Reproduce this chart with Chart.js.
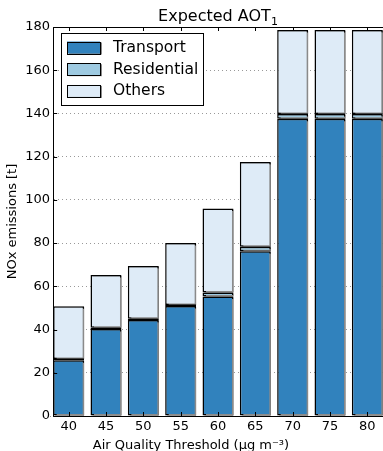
<!DOCTYPE html>
<html>
<head>
<meta charset="utf-8">
<script src="https://cdn.jsdelivr.net/npm/chart.js@4"></script>
<style>
  html, body { margin: 0; padding: 0; background: #fff; overflow: hidden; }
  #wrap { position: absolute; left: 0; top: 0; }
</style>
</head>
<body>
<div id="wrap"><canvas id="aot-chart" width="392" height="451"></canvas></div>
<script>
const thresholds = ['40', '45', '50', '55', '60', '65', '70', '75', '80'];
const transport = [25.8, 40.2, 44.4, 50.9, 55.3, 76.2, 137.5, 137.5, 137.5];
const residential = [0.6, 0.6, 0.6, 0.5, 1.8, 2.1, 2.2, 2.2, 2.2];
const others = [24.4, 24.4, 24.4, 28.6, 38.9, 39.2, 38.9, 38.9, 38.9];
const yTicks = [0, 20, 40, 60, 80, 100, 120, 140, 160, 180];

const titleText = 'Expected AOT';
const titleSub = '1';
const xTitle = 'Air Quality Threshold (\u00b5g m\u207b\u00b3)';

const FONT = 'DejaVu Sans';
const barPct = 0.83;

// grey drop shadow behind every bar, like the old matplotlib style
const shadowPlugin = {
    id: 'barShadow',
    beforeDatasetDraw(chart) {
        const c = chart.ctx;
        c.shadowColor = '#8a8a8a';
        c.shadowOffsetX = 2;
        c.shadowOffsetY = 1;
        c.shadowBlur = 0;
    },
    afterDatasetDraw(chart) {
        const c = chart.ctx;
        c.shadowColor = 'rgba(0,0,0,0)';
        c.shadowOffsetX = 0;
        c.shadowOffsetY = 0;
    }
};

// spines, inward ticks, title, x label and the boxed legend
const framePlugin = {
    id: 'frame',
    beforeDatasetsDraw(chart) {
        const a = chart.chartArea;
        const pitch = (a.right - a.left) / thresholds.length;
        const sx = a.left + pitch * (1 - barPct) / 2;
        const c = chart.ctx;
        c.save();
        c.fillStyle = '#fff';
        c.fillRect(a.left, a.top, sx - a.left, a.bottom - a.top);
        c.restore();
    },
    afterDraw(chart) {
        const a = chart.chartArea;
        const c = chart.ctx;
        const xs = chart.scales.x, ys = chart.scales.y;
        const pitch = (a.right - a.left) / thresholds.length;
        const sx = a.left + pitch * (1 - barPct) / 2;
        c.save();
        c.strokeStyle = '#000';
        c.lineWidth = 1;
        c.beginPath();
        c.moveTo(a.right + 20, Math.round(a.top) + 0.5);
        c.lineTo(Math.round(sx) + 0.5, Math.round(a.top) + 0.5);
        c.lineTo(Math.round(sx) + 0.5, Math.round(a.bottom) + 0.5);
        c.lineTo(a.right + 20, Math.round(a.bottom) + 0.5);
        c.stroke();
        c.beginPath();
        yTicks.forEach(v => {
            const y = Math.round(ys.getPixelForValue(v)) + 0.5;
            c.moveTo(sx, y);
            c.lineTo(sx + 4, y);
        });
        thresholds.forEach((t, i) => {
            const x = Math.round(xs.getPixelForValue(i)) + 0.5;
            c.moveTo(x, a.top);
            c.lineTo(x, a.top + 4);
            c.moveTo(x, a.bottom);
            c.lineTo(x, a.bottom - 4);
        });
        c.stroke();

        // title with subscript
        c.fillStyle = '#000';
        c.textBaseline = 'alphabetic';
        c.font = '16px "' + FONT + '"';
        const tw = c.measureText(titleText).width;
        c.font = '11px "' + FONT + '"';
        const sw = c.measureText(titleSub).width;
        const tx = (a.left + a.right) / 2 - (tw + sw) / 2;
        c.font = '16px "' + FONT + '"';
        c.textAlign = 'left';
        c.fillText(titleText, tx, 21);
        c.font = '11px "' + FONT + '"';
        c.fillText(titleSub, tx + tw, 25);

        // x axis label
        c.font = '13px "' + FONT + '"';
        c.textAlign = 'center';
        c.fillText(xTitle, 191, 449);

        // legend box
        const lx = a.left + 11, ly = a.top + 6, lw = 142, lh = 72;
        c.fillStyle = '#fff';
        c.fillRect(lx, ly, lw, lh);
        c.strokeRect(Math.round(lx) + 0.5, Math.round(ly) + 0.5, lw, lh);
        c.font = '15.5px "' + FONT + '"';
        c.textAlign = 'left';
        c.textBaseline = 'middle';
        chart.data.datasets.forEach((ds, i) => {
            const cy = ly + 14 + i * 21.7;
            c.fillStyle = '#8a8a8a';
            c.fillRect(lx + 8, cy - 4.5, 33, 12);
            c.fillStyle = ds.backgroundColor;
            c.fillRect(lx + 6, cy - 5.5, 33, 12);
            c.strokeStyle = '#000';
            c.strokeRect(Math.round(lx + 6) + 0.5, Math.round(cy - 5.5) + 0.5, 33, 12);
            c.fillStyle = '#000';
            c.fillText(ds.label, lx + 52, cy + 1);
        });
        c.restore();
    }
};

const ctx = document.getElementById('aot-chart');

const chart = new Chart(ctx, {
    type: 'bar',
    data: {
        labels: thresholds,
        datasets: [
            { label: 'Transport', data: transport, backgroundColor: '#3182bd' },
            { label: 'Residential', data: residential, backgroundColor: '#9ecae1' },
            { label: 'Others', data: others, backgroundColor: '#deebf7' }
        ]
    },
    options: {
        responsive: false,
        animation: false,
        layout: { padding: { left: 0, right: 6, top: 27, bottom: 0 } },
        datasets: {
            bar: {
                borderColor: '#000',
                borderWidth: 1.5,
                borderSkipped: false,
                barPercentage: barPct,
                categoryPercentage: 1
            }
        },
        plugins: {
            legend: { display: false },
            tooltip: { enabled: false },
            title: { display: false }
        },
        scales: {
            x: {
                stacked: true,
                grid: { display: false, drawTicks: false },
                border: { display: false },
                ticks: { color: '#000', font: { family: FONT, size: 13 }, padding: 3, maxRotation: 0 },
                afterFit(s) { s.height = 35; }
            },
            y: {
                stacked: true,
                min: 0,
                max: 180,
                afterBuildTicks(s) { s.ticks = yTicks.map(v => ({ value: v })); },
                grid: { color: '#999', drawTicks: false, lineWidth: 1 },
                border: { display: false, dash: [1, 3] },
                ticks: { color: '#000', font: { family: FONT, size: 13 }, padding: 0 },
                title: {
                    display: true,
                    text: 'NOx emissions [t]',
                    color: '#000',
                    font: { family: FONT, size: 13 },
                    padding: { top: 5, bottom: 0 }
                },
                afterFit(s) { s.width = 50; }
            }
        }
    },
    plugins: [shadowPlugin, framePlugin]
});
</script>
</body>
</html>
